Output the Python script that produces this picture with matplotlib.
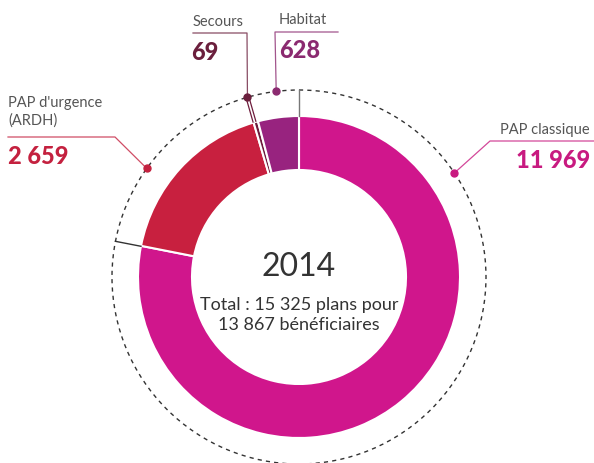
import numpy as np
import matplotlib.pyplot as plt
from matplotlib.patches import Circle

W, H = 594, 463

# donnees
categories = ["PAP classique", "PAP d'urgence\n(ARDH)", "Secours", "Habitat"]
valeurs = [11969, 2659, 69, 628]
etiquettes = ["11 969", "2 659", "69", "628"]
couleurs = ["#d0168c", "#c8203f", "#6e1c3c", "#98237f"]
couleurs_txt = ["#c81a80", "#c4213f", "#6b1f3d", "#8b2a70"]
annee = "2014"
total_txt = "Total : 15 325 plans pour\n13 867 bénéficiaires"

fig = plt.figure(figsize=(W / 100, H / 100), dpi=100)
ax = fig.add_axes([0, 0, 1, 1])

cx, cy = 299, H - 277
r_out, r_in, r_dash = 161, 107, 187

ax.pie(valeurs, colors=couleurs, startangle=90, counterclock=False,
       center=(cx, cy), radius=r_out,
       wedgeprops=dict(width=r_out - r_in, edgecolor='white', linewidth=1.5))

ax.add_patch(Circle((cx, cy), r_dash, fill=False, ls=(0, (3, 3)),
                    lw=1, color='#333333'))

def pt(ang, r):
    a = np.radians(ang)
    return cx + r * np.cos(a), cy + r * np.sin(a)

# separateurs radiaux
for ang, col in [(90, '#777777'), (169, '#333333')]:
    x0, y0 = pt(ang, r_out)
    x1, y1 = pt(ang, r_dash)
    ax.plot([x0, x1], [y0, y1], color=col, lw=1)

# secours : petit trait jusqu'au point
x0, y0 = pt(106, r_out)
x1, y1 = pt(106, r_dash)
ax.plot([x0, x1], [y0, y1], color='#6e1c3c', lw=3, solid_capstyle='butt')
ax.plot([x0, x1], [y0, y1], color='white', lw=1.2, solid_capstyle='butt')

# etiquettes : (angle du point, coude, fin de ligne, pos texte, pos valeur, alignement)
lay = [
    (33.8, (490, 141), (594, 141), (590, 130), (590, 160), 'right'),
    (144.5, (115, 137), (8, 137), (8, 112), (8, 157), 'left'),
    (106, (247, 33), (193, 33), (193, 22), (191, 53), 'left'),
    (97, (275, 32), (338, 32), (279, 20), (279, 50), 'left'),
]

for i, (ang, coude, fin, ptxt, pval, ha) in enumerate(lay):
    dx, dy = pt(ang, r_dash)
    ax.plot([dx, coude[0], fin[0]], [dy, H - coude[1], H - fin[1]],
            color=couleurs_txt[i], lw=0.9, alpha=0.8)
    ax.plot(dx, dy, 'o', ms=5, color=couleurs_txt[i])
    ax.text(ptxt[0], H - ptxt[1], categories[i], ha=ha, va='center',
            fontsize=10.5, color='#555555', family='Lato', linespacing=1.25)
    ax.text(pval[0], H - pval[1], etiquettes[i], ha=ha, va='center',
            fontsize=17, fontweight='black', color=couleurs_txt[i], family='Lato')

ax.text(cx, H - 267, annee, ha='center', va='center', fontsize=23,
        color='#333333', family='Lato')
ax.text(cx, H - 315, total_txt, ha='center', va='center', fontsize=13,
        color='#333333', family='Lato', linespacing=1.3)

ax.set_xlim(0, W)
ax.set_ylim(0, H)
ax.set_aspect('equal')
ax.axis('off')

fig.savefig('out.png', dpi=100)
